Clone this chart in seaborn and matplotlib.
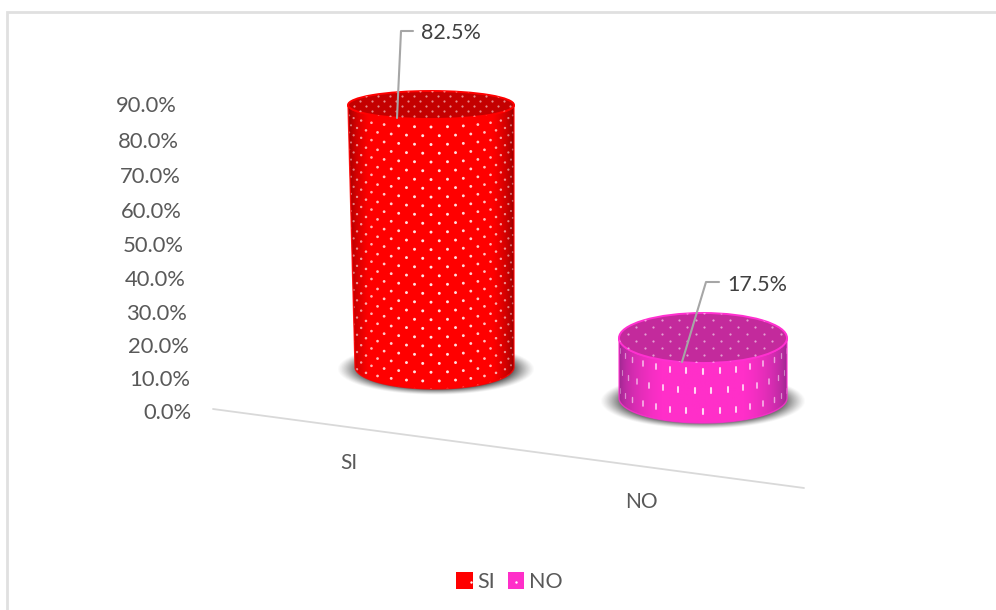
import matplotlib
matplotlib.use("Agg")
import matplotlib.pyplot as plt
import seaborn as sns
import numpy as np
from matplotlib.patches import Ellipse, Patch, PathPatch
from matplotlib.path import Path

categories = ["SI", "NO"]
values = [82.5, 17.5]
tick_values = [0, 10, 20, 30, 40, 50, 60, 70, 80, 90]

W, H = 996, 610
TEXT = "#595959"

sns.set_theme(style="white")
plt.rcParams["font.family"] = ["Lato", "DejaVu Sans"]

fig = plt.figure(figsize=(W / 100, H / 100), dpi=100, facecolor="white")

# capa en pixeles, encima de las barras de seaborn
ax_px = fig.add_axes([0, 0, 1, 1], zorder=2)
ax_px.patch.set_alpha(0)
ax_px.set_axis_off()


def px_rect(left, right, top, bottom):
    return [left / W, 1 - bottom / H, (right - left) / W, (bottom - top) / H]


def ellipse_arc(cx, cy, rx, ry, a0, a1, n=80):
    t = np.linspace(a0, a1, n)
    return np.c_[cx + rx * np.cos(t), cy + ry * np.sin(t)]


def draw_shadow(cx, cy, rx, ry):
    yy, xx = np.mgrid[-1:1:200j, -1:1:300j]
    r = np.sqrt(xx ** 2 + yy ** 2)
    img = np.zeros((200, 300, 4))
    img[..., :3] = 0.1
    img[..., 3] = np.clip((1 - r) / 0.3, 0, 1) ** 1.2
    ax_px.imshow(img, extent=(cx - rx, cx + rx, cy + ry, cy - ry), aspect="auto",
                 interpolation="bilinear", zorder=1)


def draw_cylinder(ax, color, dark, top_color, rim, ry_top, ry_bot, inset, row_gap, long_dots, gain):
    # la geometria sale de la barra que dibujo seaborn
    bar = ax.patches[0]
    p0 = ax.transData.transform((bar.get_x(), 0))
    p1 = ax.transData.transform((bar.get_x() + bar.get_width(), bar.get_height()))
    x0, y_base = ax_px.transData.inverted().transform(p0)
    x1, y_top = ax_px.transData.inverted().transform(p1)
    cx = (x0 + x1) / 2
    rx = (x1 - x0) / 2

    # silueta del cuerpo
    bot_cx = (x0 + inset + x1) / 2
    bot_rx = (x1 - x0 - inset) / 2
    pts = [[x0, y_top], [x0 + inset, y_base]]
    pts += ellipse_arc(bot_cx, y_base, bot_rx, ry_bot, np.pi, 0).tolist()
    pts += [[x1, y_top]]
    pts += ellipse_arc(cx, y_top, rx, ry_top, 0, np.pi).tolist()
    body = PathPatch(Path(pts + [pts[0]]), facecolor="none", edgecolor="none",
                     transform=ax_px.transData)
    ax_px.add_patch(body)
    bar.set_clip_path(body.get_path(), ax_px.transData)

    # degradado horizontal
    t = np.linspace(-1, 1, 400)
    shade = np.clip(np.sqrt(1 - t ** 2) * gain, 0, 1) ** 1.1
    c0 = np.array(matplotlib.colors.to_rgb(dark))
    c1 = np.array(matplotlib.colors.to_rgb(color))
    grad = c0 + (c1 - c0) * shade[:, None]
    im = ax_px.imshow(grad[None, :, :], extent=(x0, x1, y_base + ry_bot + 2, y_top - ry_top),
                      aspect="auto", interpolation="bilinear", zorder=2)
    im.set_clip_path(body)
    outline = PathPatch(Path(pts + [pts[0]]), facecolor="none", edgecolor=rim, lw=1.0,
                        alpha=0.8, zorder=3.5, transform=ax_px.transData)
    ax_px.add_patch(outline)

    # puntos del cuerpo
    xs, ys, alphas, sizes = [], [], [], []
    n_rows = int((y_base - y_top) / row_gap) + 2
    step = 0.2
    for i in range(n_rows):
        offs = step / 2 if i % 2 else 0
        thetas = np.arange(-8, 9) * step + offs
        thetas = thetas[np.abs(thetas) < 1.45]
        frac = i * row_gap / max(y_base - y_top, 1)
        ry = ry_top + (ry_bot - ry_top) * min(frac, 1)
        y_row = y_top + i * row_gap + 8
        xs.extend(cx + rx * np.sin(thetas))
        ys.extend(y_row + ry * np.cos(thetas))
        alphas.extend(0.3 + 0.6 * np.cos(thetas))
        sizes.extend(np.cos(thetas))
    xs, ys, alphas, sizes = map(np.array, (xs, ys, alphas, sizes))
    rgba = np.ones((len(xs), 4))
    rgba[:, 3] = alphas
    if long_dots:
        for xv, yv, a, s in zip(xs, ys, alphas, sizes):
            ln, = ax_px.plot([xv, xv], [yv - 2.5, yv + 2.5], color="white", alpha=a * 0.9,
                             lw=0.5 + 1.0 * s, solid_capstyle="round", zorder=3)
            ln.set_clip_path(body)
    else:
        sc = ax_px.scatter(xs, ys, s=1.5 + 3 * sizes, c=rgba, linewidths=0, zorder=3)
        sc.set_clip_path(body)

    # tapa
    top = Ellipse((cx, y_top), 2 * rx, 2 * ry_top, facecolor=top_color, edgecolor=rim,
                  lw=1.4, zorder=4)
    ax_px.add_patch(top)
    gx, gy = (17, 7) if long_dots else (12, 5)
    tx, ty = [], []
    for j, yv in enumerate(np.arange(y_top - ry_top, y_top + ry_top, gy)):
        row = np.arange(x0, x1, gx) + (gx / 2 if j % 2 else 0)
        tx.extend(row)
        ty.extend([yv] * len(row))
    sc = ax_px.scatter(tx, ty, s=2.5, color="white", alpha=0.55, linewidths=0, zorder=5)
    sc.set_clip_path(top)
    return cx


# barras
rects = [px_rect(348, 514, 105, 367), px_rect(619, 787, 338, 398)]
bar_colors = ["#ff0000", "#ff2fc9"]
for cat, val, rect, col in zip(categories, values, rects, bar_colors):
    ax = fig.add_axes(rect, zorder=1)
    sns.barplot(x=[cat], y=[val], color=col, saturation=1, width=1, ax=ax)
    ax.set_ylim(0, val)
    ax.set_axis_off()

ax_px.set_xlim(0, W)
ax_px.set_ylim(H, 0)

bar_axes = [a for a in fig.axes if a is not ax_px]
draw_shadow(436, 369, 99, 26)
draw_shadow(703, 401, 103, 28)
draw_cylinder(bar_axes[0], "#ff0000", "#8a0000", "#c40000", "#ff0000", 14, 22, 7, 8.5, False, 1.5)
draw_cylinder(bar_axes[1], "#ff2fc9", "#92288a", "#c32a9c", "#ff30d0", 25, 25, 0, 20, True, 1.15)

# marco
ax_px.plot([7, 7, W], [H, 12, 12], color="#e0e0e0", lw=2, zorder=1, solid_joinstyle="miter")

# eje inclinado
ax_px.plot([213, 804], [409, 488], color="#d9d9d9", lw=1.3, zorder=1)

# etiquetas del eje y, inclinadas por la perspectiva
for v in tick_values:
    y = 413 - 3.251 * v - 0.00178 * v ** 2
    x = 192 - v * 15 / 90
    ax_px.text(x, y, f"{v:.1f}%", ha="right", va="center", fontsize=15.8, color=TEXT, zorder=6)

ax_px.text(349, 463, categories[0], ha="center", va="center", fontsize=15, color=TEXT)
ax_px.text(641, 502, categories[1], ha="center", va="center", fontsize=15, color=TEXT)

# lineas guia y rotulos de datos
ax_px.plot([397, 401, 413], [118, 31, 31], color="#a6a6a6", lw=1.5, zorder=7)
ax_px.plot([682, 706, 719], [362, 282, 282], color="#a6a6a6", lw=1.5, zorder=7)
ax_px.text(421, 33, f"{values[0]:.1f}%", ha="left", va="center", fontsize=15.5, color="#404040", zorder=7)
ax_px.text(727, 285, f"{values[1]:.1f}%", ha="left", va="center", fontsize=15.5, color="#404040", zorder=7)

# leyenda
handles = [Patch(facecolor=c, edgecolor="none", label=l) for c, l in zip(bar_colors, categories)]
ax_px.legend(handles=handles, loc="center", bbox_to_anchor=(509 / W, 1 - 582 / H), ncol=2, frameon=False,
             handlelength=0.78, handleheight=0.78, handletextpad=0.2, columnspacing=0.6,
             fontsize=15.5, labelcolor=TEXT)
ax_px.scatter([471, 516], [582, 582], s=3, color="white", linewidths=0, zorder=8)

fig.savefig("out.png", dpi=100)
plt.close(fig)
